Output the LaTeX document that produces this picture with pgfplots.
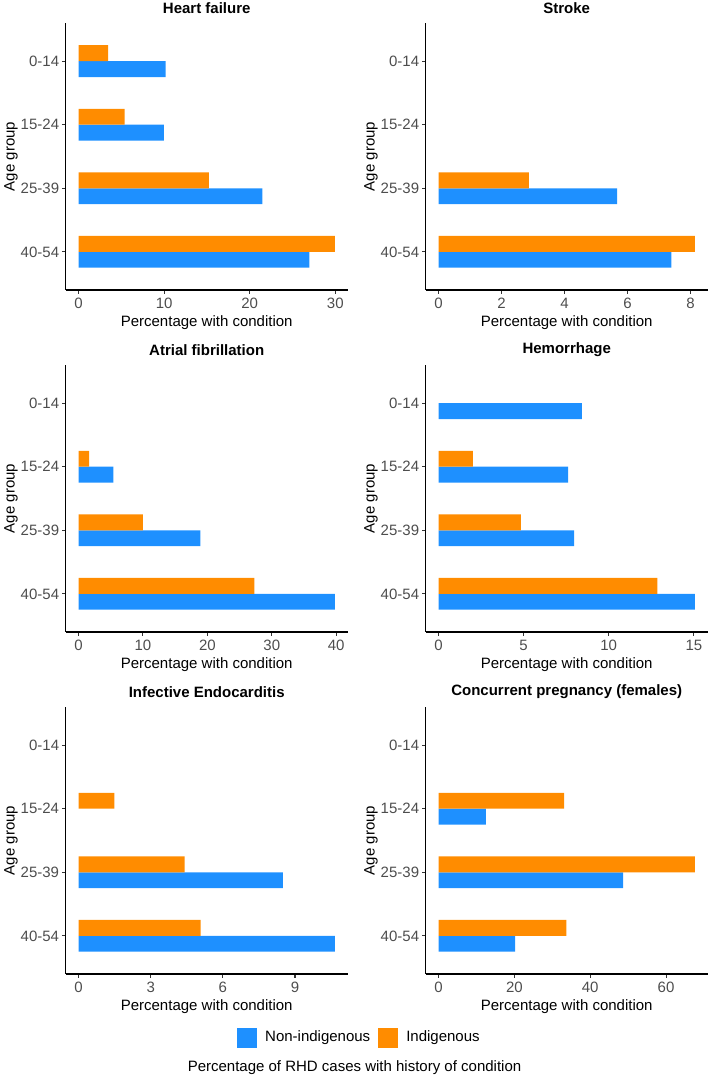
\documentclass[border=0pt]{standalone}
\usepackage{pgfplots}
\pgfplotsset{compat=1.18}
\usepackage{fontspec}
\setmainfont{Liberation Sans}
\definecolor{nonind}{HTML}{1E90FF}
\definecolor{ind}{HTML}{FF8C00}
\definecolor{tickgray}{HTML}{4D4D4D}
\definecolor{tickdark}{HTML}{333333}
\newcommand{\fs}{\fontsize{7.5}{9}\selectfont}
\pgfplotsset{
 panel/.style={
  scale only axis, width=141pt, height=133.5pt,
  anchor=south west,
  axis x line*=bottom, axis y line*=left,
  axis line style={-, black, line width=0.6pt},
  tick align=outside,
  major tick length=1.85pt,
  tick style={tickdark, line width=0.55pt},
  ymin=0.4, ymax=4.6,
  ytick={1,2,3,4},
  yticklabels={40-54,25-39,15-24,0-14},
  ticklabel style={font=\fs, text=tickgray},
  /pgf/number format/assume math mode=true,
  yticklabel style={inner sep=0pt, xshift=-1.25pt},
  xticklabel style={inner sep=0pt, yshift=-1.95pt},
  xlabel={Percentage with condition},
  ylabel={Age group},
  label style={font=\fs},
  xlabel style={at={(axis description cs:0.5,-0.124)}, anchor=center, inner sep=0pt},
  ylabel style={at={(axis description cs:-0.194,0.5)}, anchor=center, inner sep=0pt},
  every axis title shift=0pt,
  title style={at={(axis description cs:0.5,1.056)}, anchor=center, font=\fs\bfseries, inner sep=0pt},
  clip=false,
 },
 nb/.style={xbar, bar width=0.25, bar shift=-0.125, fill=nonind, draw=none},
 ib/.style={xbar, bar width=0.25, bar shift=0.125, fill=ind, draw=none},
}
\begin{document}
\begin{tikzpicture}
\path[use as bounding box] (0,0) rectangle (354.5pt,538pt);

% Heart failure
\begin{axis}[panel, at={(32.85pt,393pt)}, title={Heart failure},
  xmin=-1.498, xmax=31.45, xtick={0,10,20,30}]
\addplot[nb] coordinates {(10.19,4) (9.96,3) (21.47,2) (26.98,1)};
\addplot[ib] coordinates {(3.45,4) (5.39,3) (15.23,2) (29.96,1)};
\end{axis}

% Stroke
\begin{axis}[panel, at={(212.85pt,393pt)}, title={Stroke},
  xmin=-0.407, xmax=8.547, xtick={0,2,4,6,8}]
\addplot[nb] coordinates {(5.67,2) (7.39,1)};
\addplot[ib] coordinates {(2.87,2) (8.14,1)};
\end{axis}

% Atrial fibrillation
\begin{axis}[panel, at={(32.85pt,222pt)}, title={Atrial fibrillation},
  xmin=-1.99, xmax=41.79, xtick={0,10,20,30,40}]
\addplot[nb] coordinates {(5.41,3) (18.9,2) (39.8,1)};
\addplot[ib] coordinates {(1.65,3) (10.0,2) (27.3,1)};
\end{axis}

% Hemorrhage
\begin{axis}[panel, at={(212.85pt,222pt)}, title={Hemorrhage},
  xmin=-0.753, xmax=15.813, xtick={0,5,10,15}]
\addplot[nb] coordinates {(8.42,4) (7.61,3) (7.96,2) (15.06,1)};
\addplot[ib] coordinates {(2.02,3) (4.84,2) (12.86,1)};
\end{axis}

% Infective Endocarditis
\begin{axis}[panel, at={(32.85pt,51pt)}, title={Infective Endocarditis},
  xmin=-0.533, xmax=11.19, xtick={0,3,6,9},
  legend style={at={(1.038,-0.2397)}, anchor=center, draw=none, fill=none,
    legend columns=2, font=\fs, inner sep=0pt, nodes={inner sep=0pt},
    /tikz/every odd column/.append style={column sep=4pt},
    /tikz/every even column/.append style={column sep=4pt}},
  legend image code/.code={\fill[#1] (0pt,-5pt) rectangle (10pt,5pt);}]
\addplot[nb] coordinates {(8.49,2) (10.66,1)};
\addlegendentry{Non-indigenous}
\addplot[ib] coordinates {(1.49,3) (4.41,2) (5.08,1)};
\addlegendentry{Indigenous}
\end{axis}

% Concurrent pregnancy
\begin{axis}[panel, at={(212.85pt,51pt)}, title={Concurrent pregnancy (females)},
  xmin=-3.38, xmax=70.98, xtick={0,20,40,60}]
\addplot[nb] coordinates {(12.5,3) (48.7,2) (20.2,1)};
\addplot[ib] coordinates {(33.1,3) (67.6,2) (33.7,1)};
\end{axis}

\node[font=\fs, anchor=center, inner sep=0pt] at (177.25pt,4.2pt) {Percentage of RHD cases with history of condition};
\end{tikzpicture}
\end{document}
